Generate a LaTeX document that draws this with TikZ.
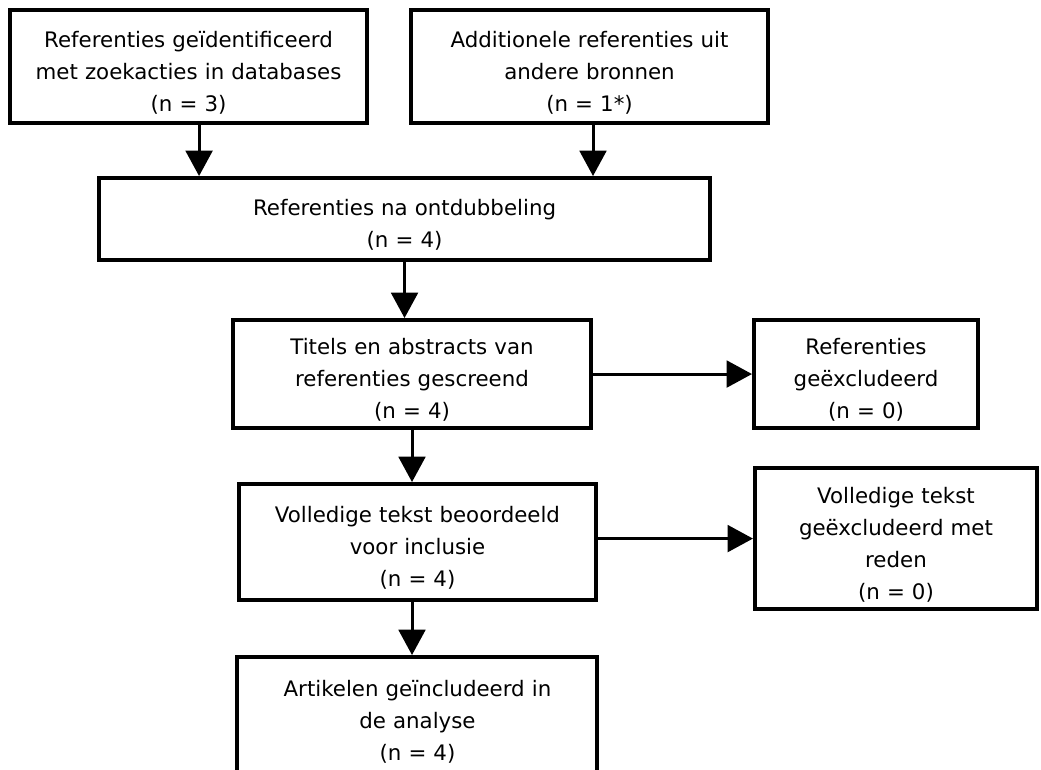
\documentclass[tikz,border=0pt]{standalone}
\usepackage{fontspec}
\setmainfont{DejaVu Sans}
\usetikzlibrary{positioning, arrows.meta}

\begin{document}
\begin{tikzpicture}[
            box/.style={draw, line width=3pt, rectangle, align=center, inner sep=2pt,
                font=\fontsize{16}{24}\selectfont, execute at begin node={\leavevmode\rule{0pt}{21pt}}},
            flow/.style={line width=2.25pt, -{Triangle[length=19pt,width=20pt]}}
        ]
            \useasboundingbox (0,0) rectangle (780.75pt,-576.75pt);
            \node[box, text width=263.75pt, minimum height=84.75pt] (ident) at (141.4pt,-49.9pt)
                {Referenties geïdentificeerd\\met zoekacties in databases\\(n = 3)};
            \node[box, text width=263.75pt, minimum height=84.75pt, right=30pt of ident] (extra)
                {Additionele referenties uit\\andere bronnen\\(n = 1*)};
            \node[box, text width=454.25pt, minimum height=61.5pt, below=38.25pt of ident, xshift=162pt] (dedup)
                {Referenties na ontdubbeling\\(n = 4)};
            \node[box, text width=264.5pt, minimum height=81pt, below=42pt of dedup, xshift=5.6pt] (screen)
                {Titels en abstracts van\\referenties gescreend\\(n = 4)};
            \node[box, text width=164pt, minimum height=81pt, right=119.25pt of screen] (excl)
                {Referenties\\geëxcludeerd\\(n = 0)};
            \node[box, text width=263.75pt, minimum height=87pt, below=39pt of screen, xshift=4.1pt] (full)
                {Volledige tekst beoordeeld\\voor inclusie\\(n = 4)};
            \node[box, text width=207.5pt, minimum height=105.75pt, right=116.25pt of full, yshift=2.6pt] (fullexcl)
                {Volledige tekst\\geëxcludeerd met\\reden\\(n = 0)};
            \node[box, text width=266pt, minimum height=88.5pt, below=39.75pt of full] (incl)
                {Artikelen geïncludeerd in\\de analyse\\(n = 4)};
            \draw[flow] ([xshift=7.9pt]ident.south) -- ([xshift=7.9pt]ident.south |- dedup.north);
            \draw[flow] ([xshift=2.6pt]extra.south) -- ([xshift=2.6pt]extra.south |- dedup.north);
            \draw[flow] (dedup.south) -- (dedup.south |- screen.north);
            \draw[flow] (screen.south) -- (screen.south |- full.north);
            \draw[flow] (screen.east) -- (excl.west);
            \draw[flow] (fullexcl.west -| full.east) -- (fullexcl.west);
            \draw[flow] (full.south -| screen.south) -- (incl.north -| screen.south);
        \end{tikzpicture}
\end{document}
